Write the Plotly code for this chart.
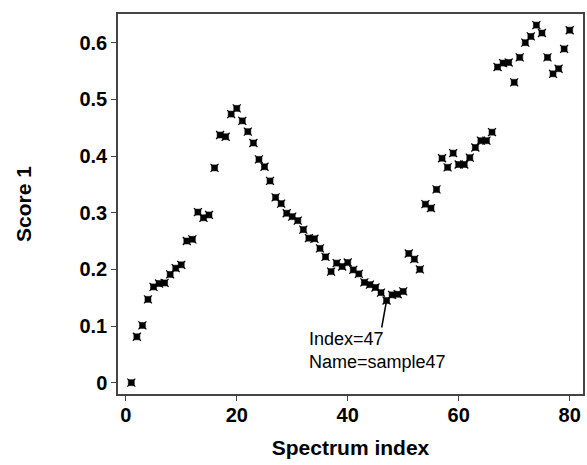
import plotly.graph_objects as go

spectrum_index = list(range(1, 81))
score1 = [
    0.000, 0.081, 0.101, 0.147, 0.169, 0.175, 0.176, 0.191, 0.202, 0.208,
    0.250, 0.253, 0.301, 0.291, 0.296, 0.379, 0.437, 0.434, 0.474, 0.484,
    0.462, 0.443, 0.423, 0.394, 0.381, 0.356, 0.327, 0.316, 0.299, 0.293,
    0.286, 0.270, 0.255, 0.254, 0.237, 0.222, 0.196, 0.211, 0.205, 0.212,
    0.199, 0.192, 0.177, 0.173, 0.168, 0.159, 0.145, 0.155, 0.156, 0.161,
    0.228, 0.218, 0.200, 0.315, 0.308, 0.341, 0.396, 0.380, 0.405, 0.385,
    0.385, 0.397, 0.415, 0.427, 0.427, 0.442, 0.557, 0.564, 0.565, 0.530,
    0.574, 0.600, 0.611, 0.631, 0.617, 0.574, 0.545, 0.554, 0.589, 0.622,
]
x_ticks = [0, 20, 40, 60, 80]
y_ticks = [0, 0.1, 0.2, 0.3, 0.4, 0.5, 0.6]
y_tick_labels = ["0", "0.1", "0.2", "0.3", "0.4", "0.5", "0.6"]
label_index = 47
label_name = "sample47"

fig = go.Figure()
fig.add_trace(go.Scatter(
    x=spectrum_index, y=score1, mode="markers",
    marker=dict(symbol="square", size=6, color="black",
                line=dict(color="black", width=0.5)),
    showlegend=False, hoverinfo="skip",
))
fig.add_trace(go.Scatter(
    x=spectrum_index, y=score1, mode="markers",
    marker=dict(symbol="x-thin-open", size=8, color="black",
                line=dict(color="black", width=1.2)),
    showlegend=False, hoverinfo="skip",
))

fig.add_annotation(
    x=label_index, y=score1[label_index - 1],
    text=f"Index={label_index}<br>Name={label_name}",
    showarrow=True, arrowhead=0, arrowwidth=1.5, arrowcolor="black",
    ax=-9, ay=50, align="left", standoff=0,
    font=dict(family="Liberation Sans, Arial", size=18, color="black"),
)

axis_font = dict(family="Liberation Sans, Arial", size=20, color="black")
title_font = dict(family="Liberation Sans, Arial", size=21, color="black")

fig.update_layout(
    width=587, height=465,
    margin=dict(l=118, r=2, t=14, b=71),
    plot_bgcolor="white", paper_bgcolor="white",
    xaxis=dict(
        range=[-1.4, 82.4], tickvals=x_ticks,
        ticktext=[f"<b>{t}</b>" for t in x_ticks],
        ticks="outside", ticklen=5, tickcolor="#444", tickwidth=1,
        showline=True, linecolor="#444", linewidth=1.5, mirror=True,
        showgrid=False, zeroline=False, tickfont=axis_font,
        ticklabelstandoff=-3,
        title=dict(text="<b>Spectrum index</b>", font=title_font, standoff=16),
    ),
    yaxis=dict(
        range=[-0.02, 0.6506], tickvals=y_ticks,
        ticktext=[f"<b>{t}</b>" for t in y_tick_labels],
        ticks="outside", ticklen=5, tickcolor="#444", tickwidth=1,
        showline=True, linecolor="#444", linewidth=1.5, mirror=True,
        showgrid=False, zeroline=False, tickfont=axis_font,
        title=dict(text="<b>Score 1</b>", font=title_font, standoff=42),
    ),
)

fig.write_html("out.html")
